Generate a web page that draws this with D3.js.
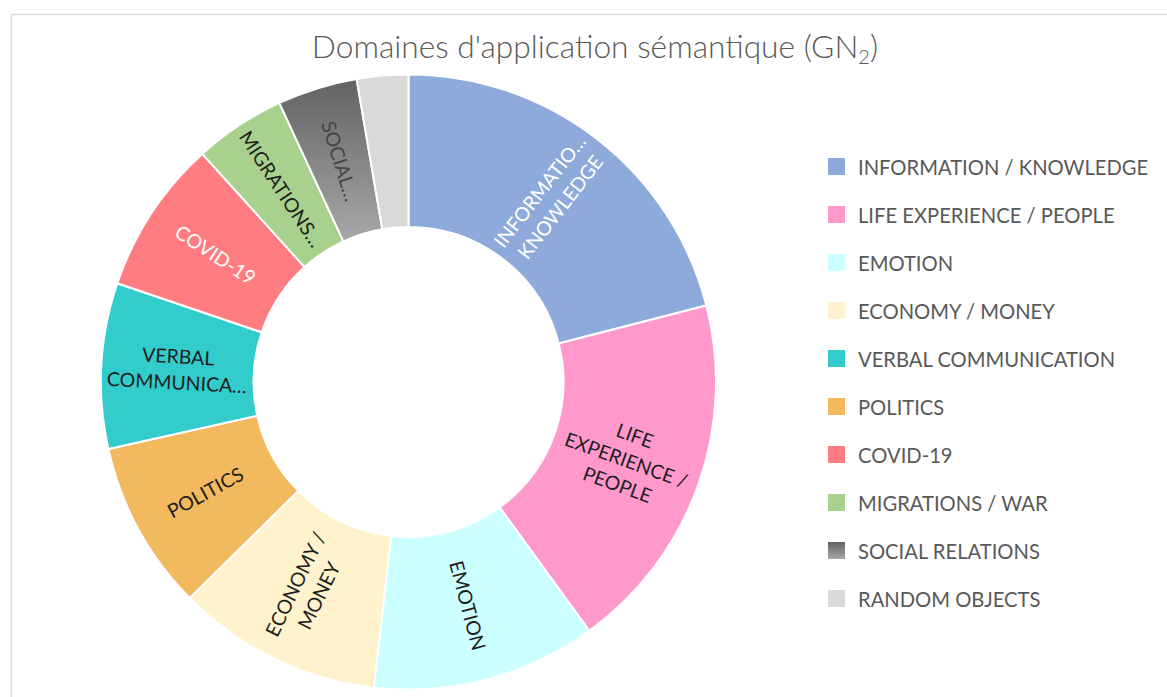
<!DOCTYPE html>
<html>
<head>
<meta charset="utf-8">
<script src="https://cdn.jsdelivr.net/npm/d3@7"></script>
<style>
  body { margin: 0; background: #fff; }
  svg { display: block; }
</style>
</head>
<body>
<svg id="chart" width="1167" height="697"></svg>
<script>
// slices, clockwise from 12 o'clock
var domains = ['INFORMATION / KNOWLEDGE', 'LIFE EXPERIENCE / PEOPLE', 'EMOTION', 'ECONOMY / MONEY',
               'POLITICS', 'VERBAL COMMUNICATION', 'COVID-19', 'MIGRATIONS / WAR', 'SOCIAL RELATIONS', 'RANDOM OBJECTS'];
var shares = [21.0, 19.0, 11.8, 10.8, 8.9, 8.7, 8.1, 4.8, 4.2, 2.7];
// wrapped / truncated labels as they appear on the ring
var sliceLabels = [['INFORMATIO…', 'KNOWLEDGE'], ['LIFE', 'EXPERIENCE /', 'PEOPLE'], ['EMOTION'], ['ECONOMY /', 'MONEY'],
                   ['POLITICS'], ['VERBAL', 'COMMUNICA…'], ['COVID-19'], ['MIGRATIONS…'], ['SOCIAL…'], []];
// legend keeps its own order
var legendOrder = ['INFORMATION / KNOWLEDGE', 'LIFE EXPERIENCE / PEOPLE', 'EMOTION', 'ECONOMY / MONEY',
                   'VERBAL COMMUNICATION', 'POLITICS', 'COVID-19', 'MIGRATIONS / WAR', 'SOCIAL RELATIONS', 'RANDOM OBJECTS'];

var colors = {
  'INFORMATION / KNOWLEDGE': '#8eaadb',
  'LIFE EXPERIENCE / PEOPLE': '#ff99cc',
  'EMOTION': '#ccffff',
  'ECONOMY / MONEY': '#fff2cc',
  'POLITICS': '#f3b95f',
  'VERBAL COMMUNICATION': '#33cccc',
  'COVID-19': '#ff7c80',
  'MIGRATIONS / WAR': '#a9d18e',
  'SOCIAL RELATIONS': 'url(#socialGrad)',
  'RANDOM OBJECTS': '#d9d9d9'
};
var labelColor = {
  'INFORMATION / KNOWLEDGE': '#ffffff',
  'COVID-19': '#ffffff',
  'SOCIAL RELATIONS': '#444444'
};

var cx = 408.5, cy = 382, rOuter = 307.5, rInner = 155;

var svg = d3.select('#chart');

var defs = svg.append('defs');
var grad = defs.append('linearGradient')
  .attr('id', 'socialGrad')
  .attr('x1', 0).attr('y1', 0).attr('x2', 0).attr('y2', 1);
grad.append('stop').attr('offset', '0%').attr('stop-color', '#626262');
grad.append('stop').attr('offset', '100%').attr('stop-color', '#a8a8a8');

// frame
svg.append('path')
  .attr('d', 'M11.5,697 L11.5,14.5 L1167,14.5')
  .attr('fill', 'none')
  .attr('stroke', '#dcdcdc')
  .attr('stroke-width', 1.5);

// title
var title = svg.append('text')
  .attr('x', 595)
  .attr('y', 58)
  .attr('text-anchor', 'middle')
  .attr('font-family', 'Lato, sans-serif')
  .attr('font-weight', 300)
  .attr('font-size', 31.7)
  .attr('fill', '#595959');
title.append('tspan').text("Domaines d'application sémantique (GN");
title.append('tspan').attr('font-size', 20).attr('dy', 6).text('2');
title.append('tspan').attr('dy', -6).text(')');

var pie = d3.pie().sort(null).value(function(d) { return d; });
var arcs = pie(shares);
var arc = d3.arc().innerRadius(rInner).outerRadius(rOuter);
var mid = d3.arc().innerRadius((rInner + rOuter) / 2).outerRadius((rInner + rOuter) / 2);

var g = svg.append('g').attr('transform', 'translate(' + cx + ',' + cy + ')');

g.selectAll('path.slice')
  .data(arcs)
  .enter()
  .append('path')
  .attr('class', 'slice')
  .attr('d', arc)
  .attr('fill', function(d, i) { return colors[domains[i]]; })
  .attr('stroke', '#fff')
  .attr('stroke-width', 2);

var fontSize = 19.5, lineH = 26;

arcs.forEach(function(d, i) {
  var lines = sliceLabels[i];
  if (!lines.length) return;
  var c = mid.centroid(d);
  var midDeg = (d.startAngle + d.endAngle) / 2 * 180 / Math.PI;
  var rot = midDeg - 90;
  if (rot > 90) rot -= 180;
  var t = g.append('text')
    .attr('transform', 'translate(' + c[0] + ',' + c[1] + ') rotate(' + rot + ')')
    .attr('text-anchor', 'middle')
    .attr('font-family', 'Lato, sans-serif')
    .attr('font-size', fontSize)
    .attr('fill', labelColor[domains[i]] || '#1e1e1e');
  var y0 = -(lines.length - 1) * lineH / 2 + fontSize * 0.35;
  lines.forEach(function(line, k) {
    t.append('tspan')
      .attr('x', 0)
      .attr('y', y0 + k * lineH)
      .text(line);
  });
});

// legend
var legend = svg.append('g').attr('transform', 'translate(828,158)');
var rows = legend.selectAll('g.row')
  .data(legendOrder)
  .enter()
  .append('g')
  .attr('class', 'row')
  .attr('transform', function(d, i) { return 'translate(0,' + (i * 48) + ')'; });

rows.append('rect')
  .attr('width', 17)
  .attr('height', 17)
  .attr('fill', function(d) { return colors[d]; });

rows.append('text')
  .attr('x', 30)
  .attr('y', 16.5)
  .attr('font-family', 'Lato, sans-serif')
  .attr('font-size', 20.2)
  .attr('fill', '#595959')
  .text(function(d) { return d; });
</script>
</body>
</html>
